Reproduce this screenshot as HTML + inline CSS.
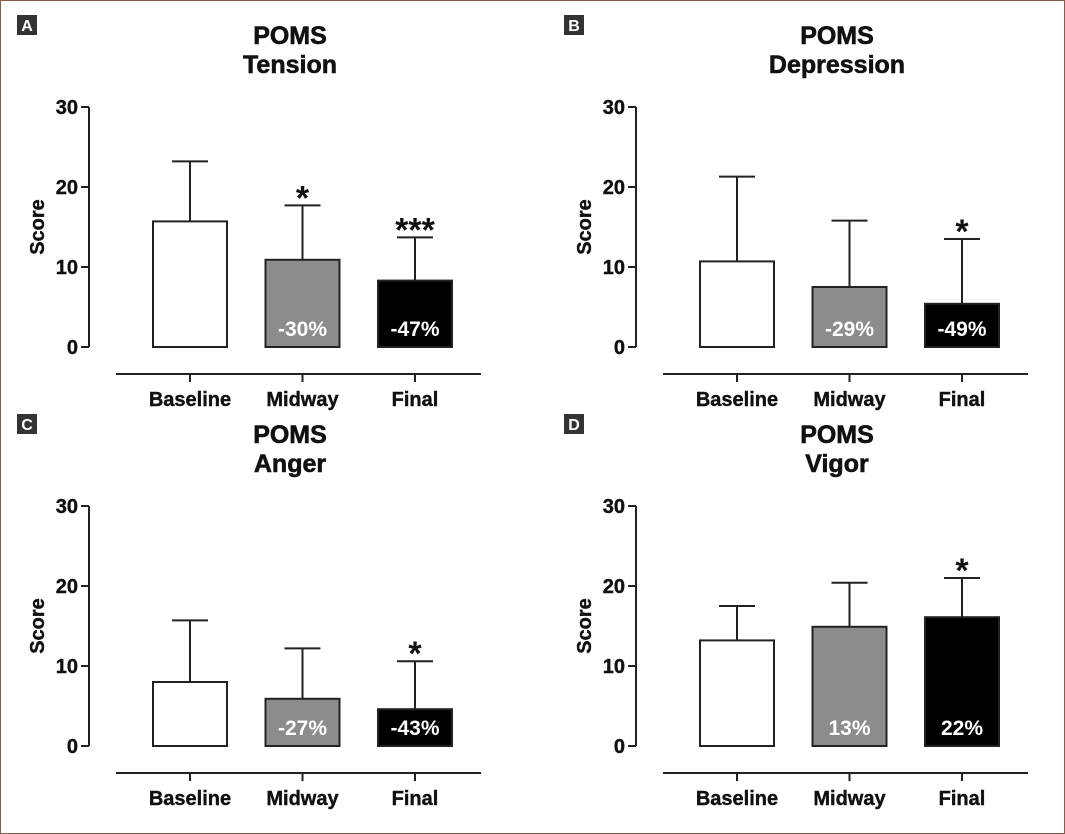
<!DOCTYPE html>
<html><head><meta charset="utf-8">
<style>
html,body{margin:0;padding:0;background:#fff}
#wrap{width:1065px;height:834px;position:relative;box-sizing:border-box;border:1px solid #8a5a4e;overflow:hidden}
svg text{font-family:"Liberation Sans",Arial,sans-serif;font-weight:bold}
</style></head>
<body>
<div id="wrap">
<svg id="chart" width="1065" height="834" viewBox="0 0 1065 834"></svg>
</div>
<script>
const panelLetters = ["A","B","C","D"];
const panelTitles = ["Tension","Depression","Anger","Vigor"];
const categories = ["Baseline","Midway","Final"];
const meanValues = [[15.7,10.9,8.3],[10.7,7.5,5.4],[8.0,5.9,4.6],[13.2,14.9,16.1]];
const errorTops = [[23.2,17.7,13.7],[21.3,15.8,13.5],[15.7,12.2,10.6],[17.5,20.4,21.0]];
const pctLabels = [["","-30%","-47%"],["","-29%","-49%"],["","-27%","-43%"],["","13%","22%"]];
const sigLabels = [["","*","***"],["","","*"],["","","*"],["","","*"]];
const yTicks = [0,10,20,30];
const fills = ["#ffffff","#8c8c8c","#000000"];

const svg = document.getElementById('chart');
const NS = "http://www.w3.org/2000/svg";
function mk(tag, attrs, parent){const e=document.createElementNS(NS,tag);for(const k in attrs)e.setAttribute(k,attrs[k]);(parent||svg).appendChild(e);return e;}

for(let p=0;p<4;p++){
  const dx = (p%2)*547, dy = Math.floor(p/2)*399;
  const g = mk('g',{transform:`translate(${dx},${dy})`});
  
  
  const y = v => 346 - v*(240/30);
  const xc = i => 189 + i*112.5;
  const lb = mk('rect',{x:16,y:14,width:20,height:20,fill:'#333'},g);
  
  
  const lt = mk('text',{x:26,y:30,'text-anchor':'middle','font-size':16,fill:'#fff'},g);
  lt.textContent = panelLetters[p];
  
  
  const t1 = mk('text',{x:289,y:43,'text-anchor':'middle','font-size':25,fill:'#111','stroke':'#111','stroke-width':0.6},g);
  t1.textContent='POMS';
  
  
  const t2 = mk('text',{x:289,y:72,'text-anchor':'middle','font-size':25,fill:'#111','stroke':'#111','stroke-width':0.6},g);
  t2.textContent=panelTitles[p];
  
  
  const ya = mk('line',{x1:88,y1:y(30),x2:88,y2:y(0),stroke:'#222','stroke-width':2},g);
  
  
  yTicks.forEach(v=>{
    mk('line',{x1:80,y1:y(v),x2:88,y2:y(v),stroke:'#222','stroke-width':2},g);
    const tt = mk('text',{x:77,y:y(v)+7,'text-anchor':'end','font-size':20,fill:'#111','stroke':'#111','stroke-width':0.4},g);
    tt.textContent=v;
    
    
  });
  const yt = mk('text',{x:0,y:0,'text-anchor':'middle','font-size':20,fill:'#111','stroke':'#111','stroke-width':0.4,transform:`translate(43,226) rotate(-90)`},g);
  yt.textContent='Score';
  
  
  const xa = mk('line',{x1:115,y1:373,x2:480,y2:373,stroke:'#222','stroke-width':2},g);
  
  
  categories.forEach((c,i)=>{
    mk('line',{x1:xc(i),y1:373,x2:xc(i),y2:381,stroke:'#222','stroke-width':2},g);
    const ct = mk('text',{x:xc(i),y:405,'text-anchor':'middle','font-size':20,fill:'#111','stroke':'#111','stroke-width':0.4},g);
    ct.textContent=c;
    
    
    const eb = mk('line',{x1:xc(i),y1:y(meanValues[p][i]),x2:xc(i),y2:y(errorTops[p][i]),stroke:'#222','stroke-width':2},g);
    
    
    mk('line',{x1:xc(i)-18,y1:y(errorTops[p][i]),x2:xc(i)+18,y2:y(errorTops[p][i]),stroke:'#222','stroke-width':2},g);
    const b = mk('rect',{x:xc(i)-37,y:y(meanValues[p][i]),width:74,height:y(0)-y(meanValues[p][i]),fill:fills[i],stroke:'#222','stroke-width':2},g);
    
    
    if(pctLabels[p][i]){
      const pl = mk('text',{x:xc(i),y:335,'text-anchor':'middle','font-size':21,fill:'#fff'},g);
      pl.textContent=pctLabels[p][i];
      
      
    }
    if(sigLabels[p][i]){
      const sl = mk('text',{x:xc(i),y:y(errorTops[p][i])+4,'text-anchor':'middle','font-size':34,fill:'#111'},g);
      sl.textContent=sigLabels[p][i];
      
      
    }
  });
}
</script>
</body></html>
